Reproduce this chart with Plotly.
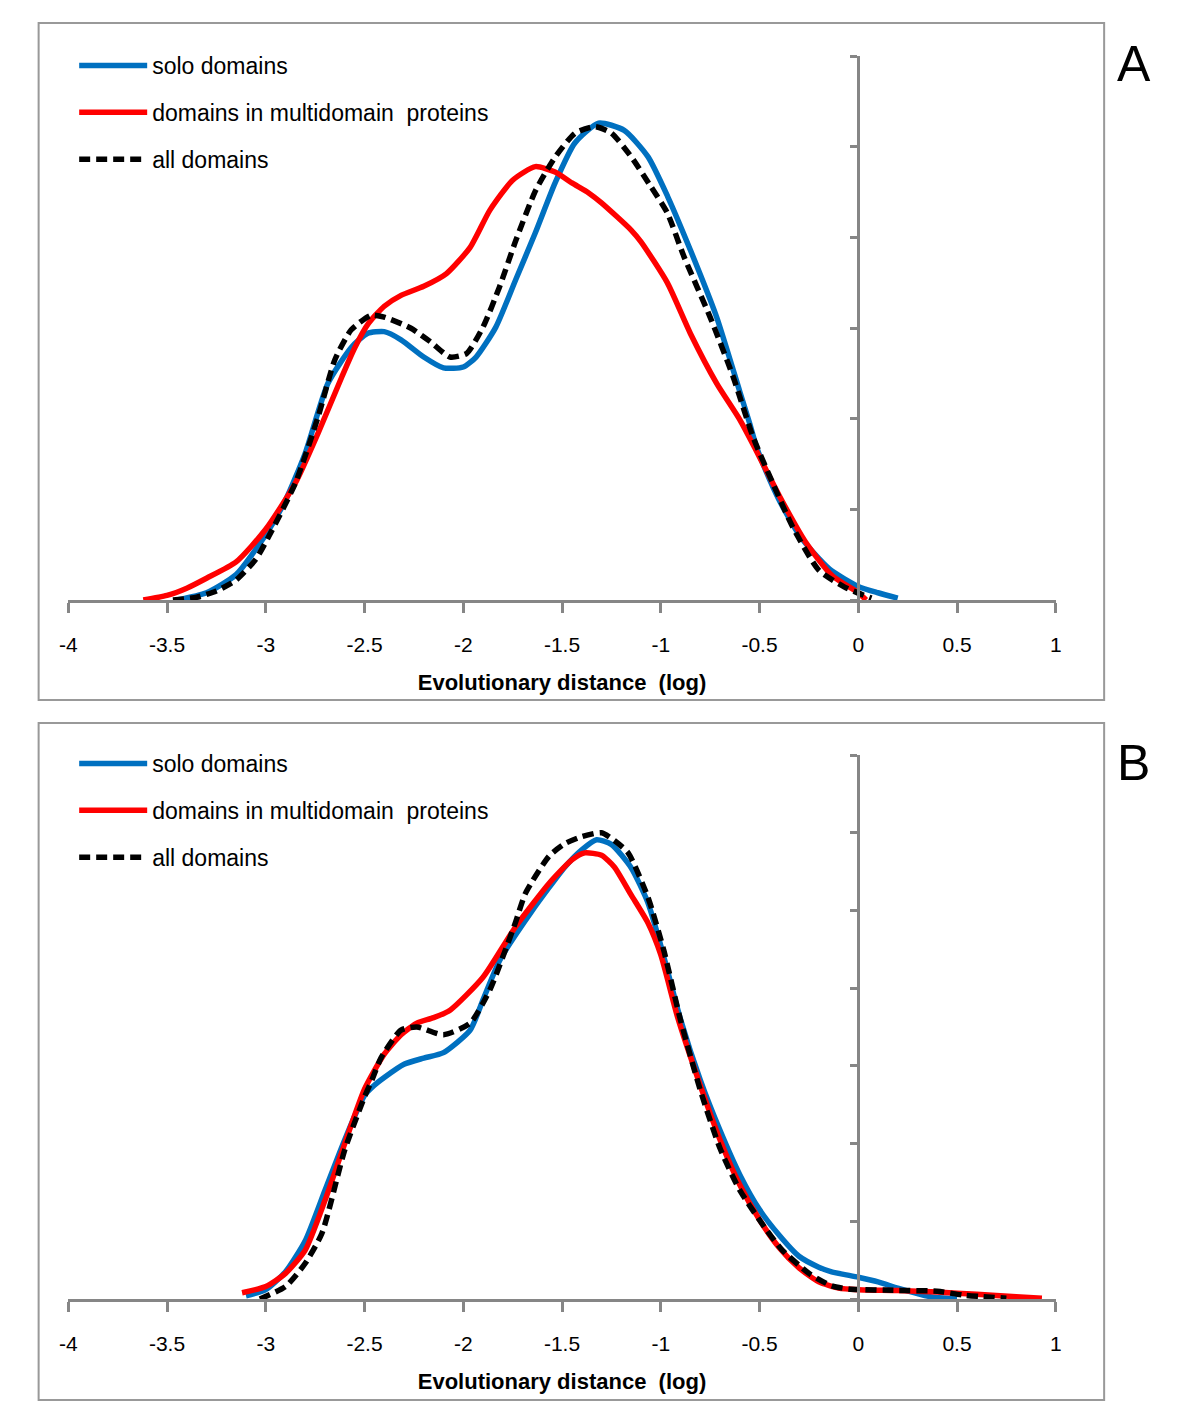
import plotly.graph_objects as go

# ---------------- data ----------------
names = ["solo domains", "domains in multidomain  proteins", "all domains"]
tick_vals = [-4, -3.5, -3, -2.5, -2, -1.5, -1, -0.5, 0, 0.5, 1]
tick_text = ["-4", "-3.5", "-3", "-2.5", "-2", "-1.5", "-1", "-0.5", "0", "0.5", "1"]

# Panel A
a_solo_x = [-3.45, -3.3, -3.15, -3.0, -2.9, -2.8, -2.685, -2.565, -2.485, -2.4, -2.315, -2.2, -2.1, -2.0,
            -1.935, -1.835, -1.735, -1.635, -1.535, -1.435, -1.315, -1.185, -1.065, -0.965, -0.85, -0.717,
            -0.6, -0.55, -0.517, -0.467, -0.4, -0.3, -0.2, -0.133, 0.0, 0.1, 0.2]
a_solo_y = [0.0, 0.08, 0.28, 0.72, 1.1, 1.62, 2.39, 2.79, 2.94, 2.96, 2.87, 2.68, 2.56, 2.57,
            2.68, 3.01, 3.53, 4.05, 4.6, 5.04, 5.26, 5.18, 4.89, 4.45, 3.86, 3.12,
            2.3, 1.95, 1.7, 1.42, 1.1, 0.72, 0.46, 0.32, 0.15, 0.08, 0.02]

a_multi_x = [-3.62, -3.5, -3.4, -3.3, -3.15, -3.0, -2.85, -2.735, -2.615, -2.55, -2.48, -2.4, -2.315,
             -2.2, -2.085, -1.965, -1.865, -1.75, -1.635, -1.535, -1.45, -1.365, -1.3, -1.15, -1.1,
             -0.967, -0.85, -0.717, -0.6, -0.517, -0.4, -0.267, -0.133, 0.0, 0.04]
a_multi_y = [0.0, 0.05, 0.13, 0.24, 0.42, 0.78, 1.29, 1.84, 2.46, 2.78, 3.05, 3.24, 3.36,
             3.46, 3.6, 3.89, 4.3, 4.63, 4.78, 4.72, 4.6, 4.49, 4.38, 4.08, 3.95,
             3.5, 2.94, 2.39, 1.99, 1.65, 1.15, 0.64, 0.27, 0.08, 0.0]

a_all_x = [-3.47, -3.35, -3.25, -3.15, -3.05, -2.985, -2.85, -2.735, -2.65, -2.567, -2.467, -2.4, -2.267,
           -2.167, -2.067, -1.983, -1.9, -1.817, -1.733, -1.633, -1.533, -1.433, -1.333, -1.25, -1.15,
           -1.05, -0.967, -0.883, -0.75, -0.633, -0.533, -0.433, -0.333, -0.2, -0.067, 0.067]
a_all_y = [0.0, 0.03, 0.1, 0.22, 0.45, 0.7, 1.29, 2.02, 2.65, 2.98, 3.14, 3.12, 3.0,
           2.85, 2.68, 2.72, 3.01, 3.45, 3.97, 4.52, 4.89, 5.15, 5.22, 5.15, 4.89,
           4.56, 4.27, 3.79, 3.12, 2.46, 1.8, 1.29, 0.81, 0.33, 0.14, 0.02]

# Panel B
b_solo_x = [-3.1, -3.0, -2.9, -2.8, -2.7, -2.6, -2.5, -2.45, -2.4, -2.3, -2.2, -2.1, -1.965, -1.9, -1.815,
            -1.65, -1.485, -1.4, -1.325, -1.25, -1.15, -1.065, -1.0, -0.9, -0.8, -0.7, -0.6, -0.5,
            -0.4, -0.3, -0.2, -0.135, 0.0, 0.1, 0.2, 0.3, 0.365, 0.5]
b_solo_y = [0.04, 0.12, 0.35, 0.75, 1.4, 2.05, 2.62, 2.75, 2.85, 3.02, 3.1, 3.17, 3.46, 3.85, 4.36,
            5.0, 5.56, 5.78, 5.91, 5.85, 5.55, 5.1, 4.55, 3.6, 2.82, 2.17, 1.6, 1.15,
            0.82, 0.55, 0.41, 0.35, 0.28, 0.22, 0.14, 0.07, 0.03, 0.0]

b_multi_x = [-3.12, -3.0, -2.9, -2.8, -2.7, -2.6, -2.5, -2.4, -2.315, -2.235, -2.15, -2.065, -1.9, -1.735,
             -1.565, -1.45, -1.385, -1.3, -1.235, -1.15, -1.065, -1.0, -0.915, -0.8, -0.7, -0.6, -0.5,
             -0.4, -0.3, -0.2, -0.1, 0.0, 0.2, 0.4, 0.6, 0.8, 0.93]
b_multi_y = [0.08, 0.16, 0.33, 0.63, 1.27, 2.0, 2.7, 3.15, 3.4, 3.55, 3.62, 3.72, 4.14, 4.79,
             5.35, 5.65, 5.74, 5.71, 5.56, 5.2, 4.84, 4.43, 3.63, 2.75, 2.05, 1.47, 1.02,
             0.66, 0.4, 0.22, 0.14, 0.12, 0.11, 0.09, 0.06, 0.03, 0.01]

b_all_x = [-3.03, -2.9, -2.8, -2.715, -2.6, -2.5, -2.465, -2.415, -2.315, -2.235, -2.1, -1.965, -1.865,
           -1.8, -1.735, -1.685, -1.565, -1.485, -1.4, -1.3, -1.235, -1.165, -1.065, -0.985, -0.9,
           -0.8, -0.7, -0.6, -0.465, -0.385, -0.25, -0.135, -0.05, 0.2, 0.4, 0.533, 0.75]
b_all_y = [0.0, 0.16, 0.46, 0.85, 1.92, 2.6, 2.8, 3.11, 3.46, 3.5, 3.4, 3.55, 3.98,
           4.4, 4.85, 5.22, 5.7, 5.86, 5.95, 6.0, 5.9, 5.74, 5.17, 4.49, 3.59,
           2.69, 1.94, 1.4, 0.89, 0.63, 0.33, 0.17, 0.13, 0.11, 0.1, 0.05, 0.01]

# ---------------- styling ----------------
W, H = 1200, 1420
BLUE, RED, BLACK = "#0070C0", "#FF0000", "#000000"
AXIS_GREY = "#868686"
FONT = "Liberation Sans, Arial, sans-serif"

def px_x(p):
    return p / W

def px_y(p):
    return 1 - p / H

fig = go.Figure()

panels = [
    ("x", "y", "legend", [(a_solo_x, a_solo_y), (a_multi_x, a_multi_y), (a_all_x, a_all_y)]),
    ("x2", "y2", "legend2", [(b_solo_x, b_solo_y), (b_multi_x, b_multi_y), (b_all_x, b_all_y)]),
]
styles = [dict(color=BLUE, width=5.5), dict(color=RED, width=5.5), dict(color=BLACK, width=5.5, dash="11px,6px")]

for pi, (xa, ya, lg, series) in enumerate(panels):
    for si, (xs, ys) in enumerate(series):
        fig.add_trace(go.Scatter(
            x=xs, y=ys, mode="lines", name=names[si], line=dict(shape="spline", smoothing=0.6, **styles[si]),
            xaxis=xa, yaxis=ya, legend=lg, legendgroup=f"{lg}_{si}", showlegend=True,
        ))

def xaxis_cfg(anchor):
    return dict(
        domain=[px_x(60), px_x(1060)], range=[-4, 1], anchor=anchor,
        showline=True, linecolor=AXIS_GREY, linewidth=3,
        ticks="outside", ticklen=10, tickwidth=3, tickcolor=AXIS_GREY,
        tickvals=tick_vals, ticktext=tick_text, ticklabelstandoff=14,
        tickfont=dict(family=FONT, size=21, color="black"),
        showgrid=False, zeroline=False,
        title=dict(text="<b>Evolutionary distance  (log)</b>", font=dict(family=FONT, size=22, color="black"),
                   standoff=20),
    )

def yaxis_cfg(top_px, bottom_px, ymax):
    return dict(
        domain=[px_y(bottom_px), px_y(top_px)], range=[0, ymax], anchor="free", position=px_x(860),
        showline=True, linecolor=AXIS_GREY, linewidth=3,
        ticks="outside", ticklen=7, tickwidth=3, tickcolor=AXIS_GREY,
        tickvals=list(range(ymax + 1)), showticklabels=False,
        showgrid=False, zeroline=False,
    )

legend_common = dict(
    xanchor="left", yanchor="top", bgcolor="rgba(0,0,0,0)", borderwidth=0,
    font=dict(family=FONT, size=23, color="black"), tracegroupgap=14, itemwidth=68,
)

fig.update_layout(
    width=W, height=H, margin=dict(l=0, r=0, t=0, b=0),
    paper_bgcolor="white", plot_bgcolor="white",
    xaxis=xaxis_cfg("y"), yaxis=yaxis_cfg(56, 600, 6),
    xaxis2=xaxis_cfg("y2"), yaxis2=yaxis_cfg(755, 1299, 7),
    legend=dict(x=px_x(66), y=px_y(44), **legend_common),
    legend2=dict(x=px_x(66), y=px_y(742), **legend_common),
    shapes=[
        dict(type="rect", xref="paper", yref="paper", x0=px_x(30), x1=px_x(1109), y0=px_y(700), y1=px_y(23),
             line=dict(color="#999999", width=2)),
        dict(type="rect", xref="paper", yref="paper", x0=px_x(30), x1=px_x(1109), y0=px_y(1400), y1=px_y(723),
             line=dict(color="#999999", width=2)),
    ],
    annotations=[
        dict(text="A", xref="paper", yref="paper", x=px_x(1139), y=px_y(64), showarrow=False,
             xanchor="center", yanchor="middle", font=dict(family=FONT, size=50, color="black")),
        dict(text="B", xref="paper", yref="paper", x=px_x(1139), y=px_y(763), showarrow=False,
             xanchor="center", yanchor="middle", font=dict(family=FONT, size=50, color="black")),
    ],
)

fig.write_html("out.html", config={"displayModeBar": False},
               post_script="document.body.style.margin='0';document.body.style.overflow='hidden';")
